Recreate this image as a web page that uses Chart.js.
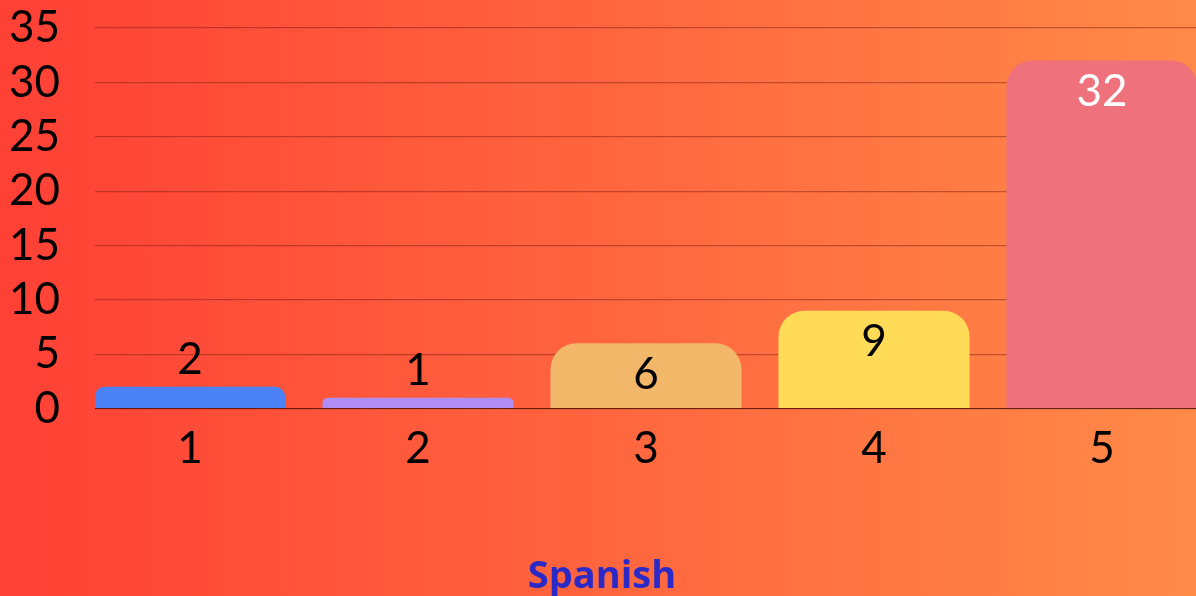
<!DOCTYPE html>
<html>
<head>
<meta charset="utf-8">
<script src="https://cdn.jsdelivr.net/npm/chart.js@4"></script>
<style>
  html, body { margin:0; padding:0; }
  body {
    width:1196px; height:596px; overflow:hidden;
    background: linear-gradient(to right, #ff4035, #ff8a48);
  }
  #wrap { position:relative; width:1196px; height:596px; }
</style>
</head>
<body>
<div id="wrap"><canvas id="chart"></canvas></div>
<script>
// ----------------- 数据 -----------------
const categories = ['1', '2', '3', '4', '5'];
const values = [2, 1, 6, 9, 32];
const barColors = ['#4c82f7', '#b08cf5', '#f3b769', '#ffdb58', '#ee717c'];
const labelColors = ['#000', '#000', '#000', '#000', '#fff'];
const yTicks = [0, 5, 10, 15, 20, 25, 30, 35];
const axisTitle = 'Spanish';

// 柱子上的数值
const valueLabels = {
  id: 'valueLabels',
  afterDatasetsDraw(chart) {
    const ctx = chart.ctx;
    const meta = chart.getDatasetMeta(0);
    ctx.save();
    ctx.font = '44px Lato';
    ctx.textAlign = 'center';
    ctx.textBaseline = 'middle';
    meta.data.forEach((bar, i) => {
      const h = bar.base - bar.y;
      const y = h > 50 ? bar.y + 31 : bar.y - 27;
      ctx.fillStyle = labelColors[i];
      ctx.fillText(String(values[i]), bar.x, y);
    });
    ctx.restore();
  }
};

const ctx = document.getElementById('chart').getContext('2d');
const chart = new Chart(ctx, {
  type: 'bar',
  data: {
    datasets: [{
      data: categories.map((c, i) => ({ x: i + 1, y: values[i] })),
      backgroundColor: barColors,
      borderRadius: 26,
      borderSkipped: 'bottom',
      barPercentage: 0.838,
      categoryPercentage: 1
    }]
  },
  options: {
    responsive: true,
    maintainAspectRatio: false,
    animation: false,
    layout: { padding: { left: 8, top: 28, right: 0, bottom: 0 } },
    plugins: {
      legend: { display: false },
      tooltip: { enabled: false },
      title: {
        display: true,
        position: 'bottom',
        text: axisTitle,
        color: '#2b2ac7',
        font: { family: 'Open Sans', size: 38, weight: 'bold' },
        padding: { top: 65, bottom: -4 }
      }
    },
    scales: {
      x: {
        type: 'linear',
        offset: false,
        bounds: 'data',
        min: 1 - 95 / 228,
        max: 5 + 94 / 228,
        afterBuildTicks: s => { s.ticks = categories.map((c, i) => ({ value: i + 1 })); },
        grid: { display: false, drawTicks: false },
        border: { display: true, color: 'rgba(70,20,10,0.75)', width: 1 },
        ticks: {
          padding: 14,
          autoSkip: false,
          maxRotation: 0,
          color: '#000',
          font: { family: 'Lato', size: 44 },
          callback: v => categories[v - 1]
        }
      },
      y: {
        min: 0,
        max: 35,
        afterBuildTicks: s => { s.ticks = yTicks.map(v => ({ value: v })); },
        afterFit: s => { s.width = 87; s.paddingTop = 0; s.paddingBottom = 0; },
        grid: { color: 'rgba(120,25,15,0.45)', lineWidth: 1.2, drawTicks: false },
        border: { display: false },
        ticks: {
          padding: 35,
          autoSkip: false,
          color: '#000',
          font: { family: 'Lato', size: 44 }
        }
      }
    }
  },
  plugins: [valueLabels]
});
</script>
</body>
</html>
